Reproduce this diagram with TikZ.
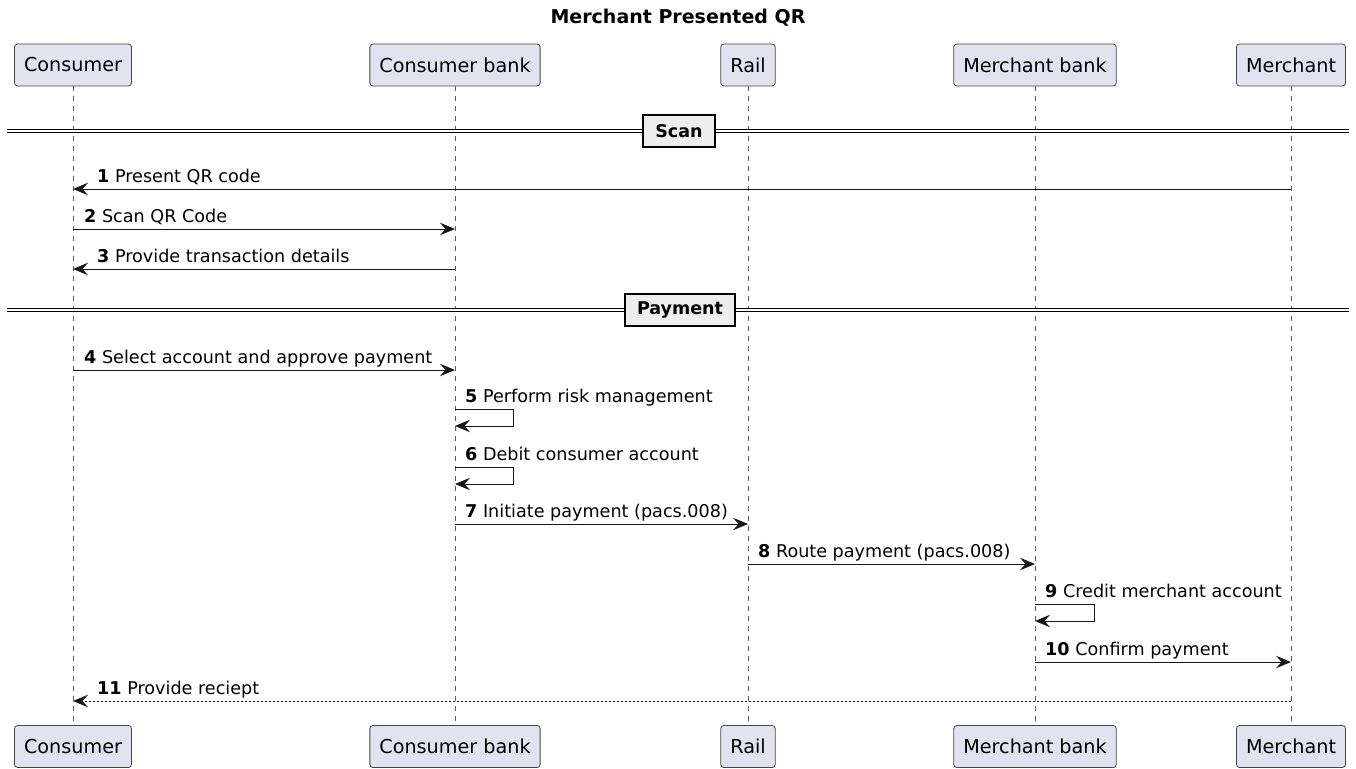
\documentclass[tikz,border=0pt]{standalone}
\usepackage{fontspec}
\setmainfont{DejaVu Sans}
\usetikzlibrary{arrows.meta}
\definecolor{partfill}{HTML}{E2E2F0}
\definecolor{partline}{HTML}{181818}
\definecolor{divfill}{HTML}{EEEEEE}

\begin{document}
\begin{tikzpicture}[x=1pt, y=-1pt,
  party/.style = {draw=partline!80, fill=partfill, rounded corners=3pt, line width=0.8pt, minimum height=42pt, inner xsep=9.5pt, font=\fontsize{19.2}{22}\selectfont},
  life/.style = {draw=partline!70, dash pattern=on 5pt off 5pt, line width=0.7pt},
  msg/.style = {draw=partline, line width=1pt, -{Stealth[length=15pt,width=12.5pt,inset=5.5pt]}},
  lbl/.style = {anchor=base west, inner sep=0pt, font=\fontsize{17.6}{20}\selectfont},
  sep/.style = {line width=1.3pt, double=white, double distance=2pt},
  divbox/.style = {draw=black, fill=divfill, line width=2pt, minimum height=32pt, inner xsep=12.5pt, font=\bfseries\fontsize{17.5}{20}\selectfont}]
\useasboundingbox (0,0) rectangle (1356,768);

\node[font=\bfseries\fontsize{19}{22}\selectfont] (title) at (678,18) {Merchant Presented QR};

% participants
\node[party] (con) at (73,65) {Consumer};
\node[party] (cb) at (455,65) {Consumer bank};
\node[party] (rail) at (748,65) {Rail};
\node[party] (mb) at (1035,65) {Merchant bank};
\node[party] (mer) at (1291,65) {Merchant};

\node[party] (con2) at (73,746.5) {Consumer};
\node[party] (cb2) at (455,746.5) {Consumer bank};
\node[party] (rail2) at (748,746.5) {Rail};
\node[party] (mb2) at (1035,746.5) {Merchant bank};
\node[party] (mer2) at (1291,746.5) {Merchant};

\draw[life] (con) -- (con2);
\draw[life] (cb) -- (cb2);
\draw[life] (rail) -- (rail2);
\draw[life] (mb) -- (mb2);
\draw[life] (mer) -- (mer2);

% scan
\draw[sep] (7,131) -- (1349,131);
\node[divbox] (scan) at (679,131) {Scan};

\draw[msg] (mer |- 0,189) -- (con |- 0,189);
\node[lbl] (m1) at (97,182.5) {\textbf{1} Present QR code};
\draw[msg] (con |- 0,229) -- (cb |- 0,229);
\node[lbl] (m2) at (84,222.5) {\textbf{2} Scan QR Code};
\draw[msg] (cb |- 0,269) -- (con |- 0,269);
\node[lbl] (m3) at (97,262.5) {\textbf{3} Provide transaction details};

% payment
\draw[sep] (7,310) -- (1349,310);
\node[divbox] (pay) at (680,310) {Payment};

\draw[msg] (con |- 0,370) -- (cb |- 0,370);
\node[lbl] (m4) at (84,363.5) {\textbf{4} Select account and approve payment};
\draw[msg] (cb |- 0,409) -| (513,426) -- (cb |- 0,426);
\node[lbl] (m5) at (465,402.5) {\textbf{5} Perform risk management};
\draw[msg] (cb |- 0,467) -| (513,484) -- (cb |- 0,484);
\node[lbl] (m6) at (465,460.5) {\textbf{6} Debit consumer account};
\draw[msg] (cb |- 0,524) -- (rail |- 0,524);
\node[lbl] (m7) at (465,517.5) {\textbf{7} Initiate payment (pacs.008)};
\draw[msg] (rail |- 0,564) -- (mb |- 0,564);
\node[lbl] (m8) at (758,557.5) {\textbf{8} Route payment (pacs.008)};
\draw[msg] (mb |- 0,604) -| (1094,621) -- (mb |- 0,621);
\node[lbl] (m9) at (1045,597.5) {\textbf{9} Credit merchant account};
\draw[msg] (mb |- 0,662) -- (mer |- 0,662);
\node[lbl] (m10) at (1045,655.5) {\textbf{10} Confirm payment};
\draw[msg, dash pattern=on 2pt off 2pt] (mer |- 0,701) -- (con |- 0,701);
\node[lbl] (m11) at (97,694.5) {\textbf{11} Provide reciept};
\end{tikzpicture}
\end{document}
